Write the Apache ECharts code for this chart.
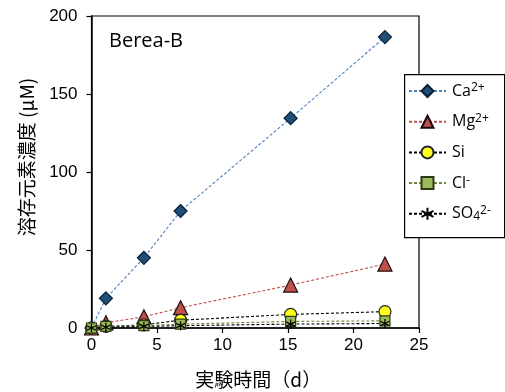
<!DOCTYPE html>
<html><head><meta charset="utf-8">
<script src="https://cdn.jsdelivr.net/npm/echarts@6/dist/echarts.min.js"></script>
<style>html,body{margin:0;padding:0;background:#fff}#c{width:505px;height:392px}</style>
</head><body><div id="c"></div>
<script>
var days = [0, 1.1, 4.0, 6.8, 15.2, 22.4];
var ca = [0, 19, 45, 75, 134.5, 186.5];
var mg = [0, 3.3, 7.2, 13, 27.5, 41];
var si = [0, 1, 2, 5, 8.7, 10.5];
var cl = [0, 1, 1.5, 2.5, 4.2, 4.6];
var so4 = [0, 0.5, 1, 1.5, 2.5, 2.9];
var names = ['Ca2+', 'Mg2+', 'Si', 'Cl-', 'SO42-'];
var legendRich = {
  'Ca2+': '{b|Ca}{s|2+}',
  'Mg2+': '{b|Mg}{s|2+}',
  'Si': '{b|Si}',
  'Cl-': '{b|Cl}{s|-}',
  'SO42-': '{b|SO}{u|4}{s|2-}'
};
var xTicks = [0, 5, 10, 15, 20, 25];
var yTicks = [0, 50, 100, 150, 200];

function pts(v){ return days.map(function(d,i){ return [d, v[i]]; }); }
var starPath = 'path://M0,-10L0,10M-8.7,-5L8.7,5M-8.7,5L8.7,-5';

var chart = echarts.init(document.getElementById('c'), null, {renderer:'canvas'});
function mk(name, data, sym, size, fill, border, lineColor, bw){
  return {
    name: name, type: 'line', data: pts(data), symbol: sym, symbolSize: size,
    clip: false, showAllSymbol: true,
    itemStyle: {color: fill, borderColor: border, borderWidth: bw === undefined ? 1.2 : bw, opacity: 1},
    lineStyle: {color: lineColor, width: 1.1, type: [3, 2]},
    emphasis: {disabled: true}
  };
}
var option = {
  animation: false,
  backgroundColor: '#fff',
  grid: {left: 91.5, right: 86, top: 16, bottom: 64, show: true, borderColor: '#000', borderWidth: 1.2, backgroundColor: 'transparent', containLabel: false, outerBoundsMode: 'none'},
  xAxis: {
    type: 'value', min: xTicks[0], max: xTicks[xTicks.length-1], interval: 5,
    name: '実験時間（d）', nameLocation: 'middle', nameGap: 42,
    nameTextStyle: {fontFamily: 'Noto Sans CJK JP', fontSize: 19, color: '#000', padding: [0,0,0,6]},
    axisLine: {show: true, onZero: false, lineStyle: {color: '#000', width: 1.5}},
    axisTick: {show: true, inside: false, length: 5, lineStyle: {color: '#000', width: 1.2}},
    axisLabel: {fontFamily: 'Liberation Sans', fontSize: 17, color: '#000', margin: 9},
    splitLine: {show: false}
  },
  yAxis: {
    type: 'value', min: yTicks[0], max: yTicks[yTicks.length-1], interval: 50,
    axisLine: {show: true, onZero: false, lineStyle: {color: '#000', width: 1.5}},
    axisTick: {show: true, inside: false, length: 5, lineStyle: {color: '#000', width: 1.2}},
    axisLabel: {fontFamily: 'Liberation Sans', fontSize: 17, color: '#000', margin: 14},
    splitLine: {show: false}
  },
  legend: {
    orient: 'vertical', left: 408, top: 82, itemWidth: 37, itemHeight: 15, itemGap: 12.7,
    data: names, padding: 0, z: 20,
    formatter: function(n){ return legendRich[n]; },
    textStyle: {
      fontFamily: 'Open Sans', fontSize: 16, color: '#000', padding: [0,0,0,1], lineHeight: 18,
      rich: {
        b: {fontFamily: 'Open Sans', fontSize: 16, color: '#000', lineHeight: 18},
        s: {fontFamily: 'Open Sans', fontSize: 12, color: '#000', lineHeight: 10, verticalAlign: 'top'},
        u: {fontFamily: 'Open Sans', fontSize: 12, color: '#000', lineHeight: 10, verticalAlign: 'bottom'}
      }
    }
  },
  graphic: [
    {type: 'rect', left: 404, top: 74, z: 15, shape: {width: 100, height: 163}, style: {fill: '#fff', stroke: '#000', lineWidth: 1.2}},
    {type: 'text', left: 109, top: 31, z: 15, style: {text: 'Berea-B', fontFamily: 'Open Sans', fontSize: 20, fill: '#000'}},
    {type: 'text', x: 27, y: 157, rotation: Math.PI/2, z: 15, style: {text: '溶存元素濃度 (μM)', fontFamily: 'Noto Sans CJK JP', fontSize: 19, fill: '#000', align: 'center', verticalAlign: 'middle'}}
  ],
  series: [
    mk(names[0], ca, 'diamond', 13, '#1F4E79', '#0b1f33', '#4F81BD'),
    mk(names[1], mg, 'triangle', 14, '#C0504D', '#1a0a0a', '#C0504D'),
    mk(names[2], si, 'circle', 12, '#FFFF1A', '#222', '#000'),
    mk(names[3], cl, 'rect', 10, '#9BBB59', '#2b3a12', '#6E8B3D'),
    mk(names[4], so4, starPath, 9, '#000', '#000', '#000', 1.3)
  ]
};
chart.setOption(option);
</script></body></html>
